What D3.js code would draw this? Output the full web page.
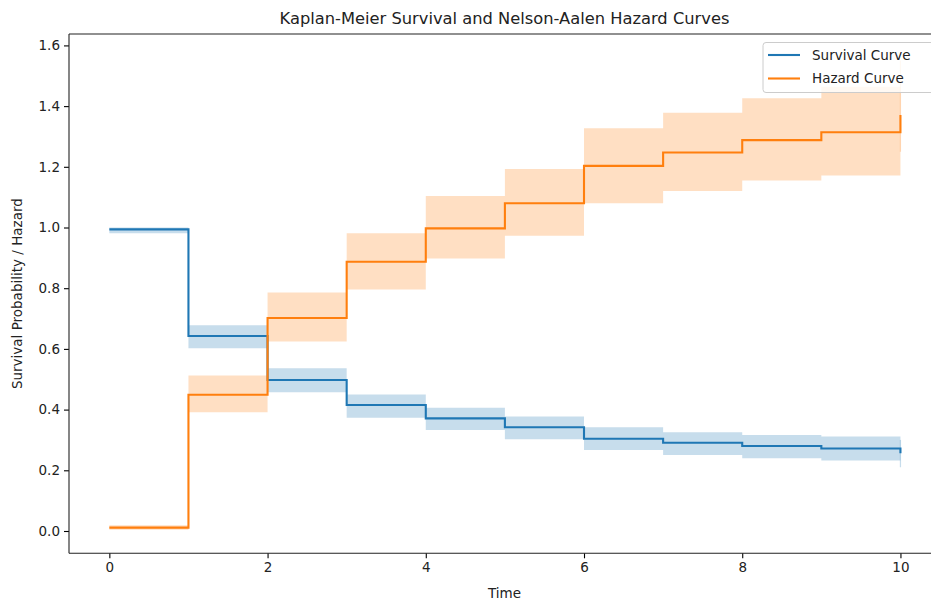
<!DOCTYPE html>
<html>
<head>
<meta charset="utf-8">
<script src="https://cdn.jsdelivr.net/npm/d3@7"></script>
<style>
  html, body { margin: 0; padding: 0; background: #fff; }
  svg { display: block; font-family: "DejaVu Sans", sans-serif; }
</style>
</head>
<body>
<svg id="chart" width="931" height="601"></svg>
<script>
// ---- data ----
const times = [0, 1, 2, 3, 4, 5, 6, 7, 8, 9, 10];
const survival = [0.994, 0.6425, 0.4975, 0.415, 0.371, 0.342, 0.304, 0.291, 0.280, 0.272, 0.256];
const survLower = [0.981, 0.602, 0.457, 0.373, 0.333, 0.302, 0.267, 0.250, 0.240, 0.232, 0.210];
const survUpper = [1.000, 0.678, 0.536, 0.450, 0.406, 0.377, 0.342, 0.325, 0.316, 0.311, 0.300];
const hazard = [0.011, 0.449, 0.702, 0.887, 0.997, 1.080, 1.203, 1.247, 1.288, 1.314, 1.371];
const hazLower = [0.004, 0.391, 0.624, 0.796, 0.898, 0.973, 1.080, 1.120, 1.155, 1.171, 1.250];
const hazUpper = [0.019, 0.512, 0.786, 0.981, 1.104, 1.193, 1.327, 1.378, 1.426, 1.464, 1.550];
const xTicks = [0, 2, 4, 6, 8, 10];
const yTicks = [0.0, 0.2, 0.4, 0.6, 0.8, 1.0, 1.2, 1.4, 1.6];
const seriesNames = ["Survival Curve", "Hazard Curve"];
const colors = ["#1f77b4", "#ff7f0e"];

// ---- layout ----
const W = 931, H = 601;
const plot = { left: 69, top: 34, right: 940, bottom: 553.3 };

const svg = d3.select("#chart");

const x = d3.scaleLinear().domain([-0.51, 10.5]).range([plot.left, plot.right]);
const y = d3.scaleLinear().domain([-0.0735, 1.6376]).range([plot.bottom, plot.top]);

const fontTick = 13.5;

// clip for plot
svg.append("defs").append("clipPath").attr("id", "plotclip")
  .append("rect").attr("x", plot.left).attr("y", plot.top)
  .attr("width", plot.right - plot.left).attr("height", plot.bottom - plot.top);

const g = svg.append("g").attr("clip-path", "url(#plotclip)");

function drawSeries(vals, lo, hi, color) {
  const pts = times.map((t, i) => ({ t, v: vals[i], lo: lo[i], hi: hi[i] }));
  const area = d3.area().curve(d3.curveStepAfter)
    .x(d => x(d.t)).y0(d => y(d.lo)).y1(d => y(d.hi));
  g.append("path").datum(pts).attr("d", area)
    .attr("fill", color).attr("fill-opacity", 0.25).attr("stroke", "none");
  // zero-width final step of the band (edge only)
  const last = pts[pts.length - 1];
  g.append("line")
    .attr("x1", x(last.t)).attr("x2", x(last.t))
    .attr("y1", y(last.lo)).attr("y2", y(last.hi))
    .attr("stroke", color).attr("stroke-opacity", 0.25).attr("stroke-width", 1.2);
  const line = d3.line().curve(d3.curveStepAfter).x(d => x(d.t)).y(d => y(d.v));
  g.append("path").datum(pts).attr("d", line)
    .attr("fill", "none").attr("stroke", color).attr("stroke-width", 2.1);
}

drawSeries(survival, survLower, survUpper, colors[0]);
drawSeries(hazard, hazLower, hazUpper, colors[1]);

// ---- axes ----
const xAxis = d3.axisBottom(x).tickValues(xTicks).tickFormat(d3.format("d"))
  .tickSizeInner(5).tickSizeOuter(0).tickPadding(4);
const yAxis = d3.axisLeft(y).tickValues(yTicks).tickFormat(d3.format(".1f"))
  .tickSizeInner(5).tickSizeOuter(0).tickPadding(4);

const gx = svg.append("g").attr("transform", `translate(0,${plot.bottom})`).call(xAxis);
const gy = svg.append("g").attr("transform", `translate(${plot.left},0)`).call(yAxis);
[gx, gy].forEach(a => {
  a.select(".domain").remove();
  a.selectAll(".tick line").attr("stroke", "#000").attr("stroke-width", 1.1);
  a.selectAll(".tick text").attr("fill", "#222").attr("font-size", fontTick)
    .attr("font-family", "DejaVu Sans, sans-serif");
});

// spines
const spine = svg.append("g").attr("stroke", "#222").attr("stroke-width", 1.1).attr("fill", "none");
spine.append("line").attr("x1", plot.left).attr("x2", plot.left).attr("y1", plot.top).attr("y2", plot.bottom);
spine.append("line").attr("x1", plot.left).attr("x2", plot.right).attr("y1", plot.bottom).attr("y2", plot.bottom);
spine.append("line").attr("x1", plot.left).attr("x2", plot.right).attr("y1", plot.top).attr("y2", plot.top);
spine.append("line").attr("x1", plot.right).attr("x2", plot.right).attr("y1", plot.top).attr("y2", plot.bottom);

// ---- titles ----
const cx = (plot.left + plot.right) / 2;
svg.append("text").attr("x", cx).attr("y", 24).attr("text-anchor", "middle")
  .attr("font-size", 16.3).attr("fill", "#222")
  .text("Kaplan-Meier Survival and Nelson-Aalen Hazard Curves");
svg.append("text").attr("x", cx).attr("y", 598).attr("text-anchor", "middle")
  .attr("font-size", fontTick).attr("fill", "#222").text("Time");
svg.append("text")
  .attr("transform", `translate(22,${(plot.top + plot.bottom) / 2}) rotate(-90)`)
  .attr("text-anchor", "middle").attr("font-size", fontTick).attr("fill", "#222")
  .text("Survival Probability / Hazard");

// ---- legend ----
const leg = svg.append("g");
leg.append("rect").attr("x", 763).attr("y", 42.5).attr("width", 200).attr("height", 50)
  .attr("rx", 3).attr("fill", "#fff").attr("fill-opacity", 0.8)
  .attr("stroke", "#ccc").attr("stroke-width", 1);
seriesNames.forEach((name, i) => {
  const yy = 55 + i * 23.5;
  leg.append("line").attr("x1", 768).attr("x2", 800).attr("y1", yy).attr("y2", yy)
    .attr("stroke", colors[i]).attr("stroke-width", 2.1);
  leg.append("text").attr("x", 812).attr("y", yy).attr("dy", "0.35em")
    .attr("font-size", fontTick).attr("fill", "#222").text(name);
});
</script>
</body>
</html>
